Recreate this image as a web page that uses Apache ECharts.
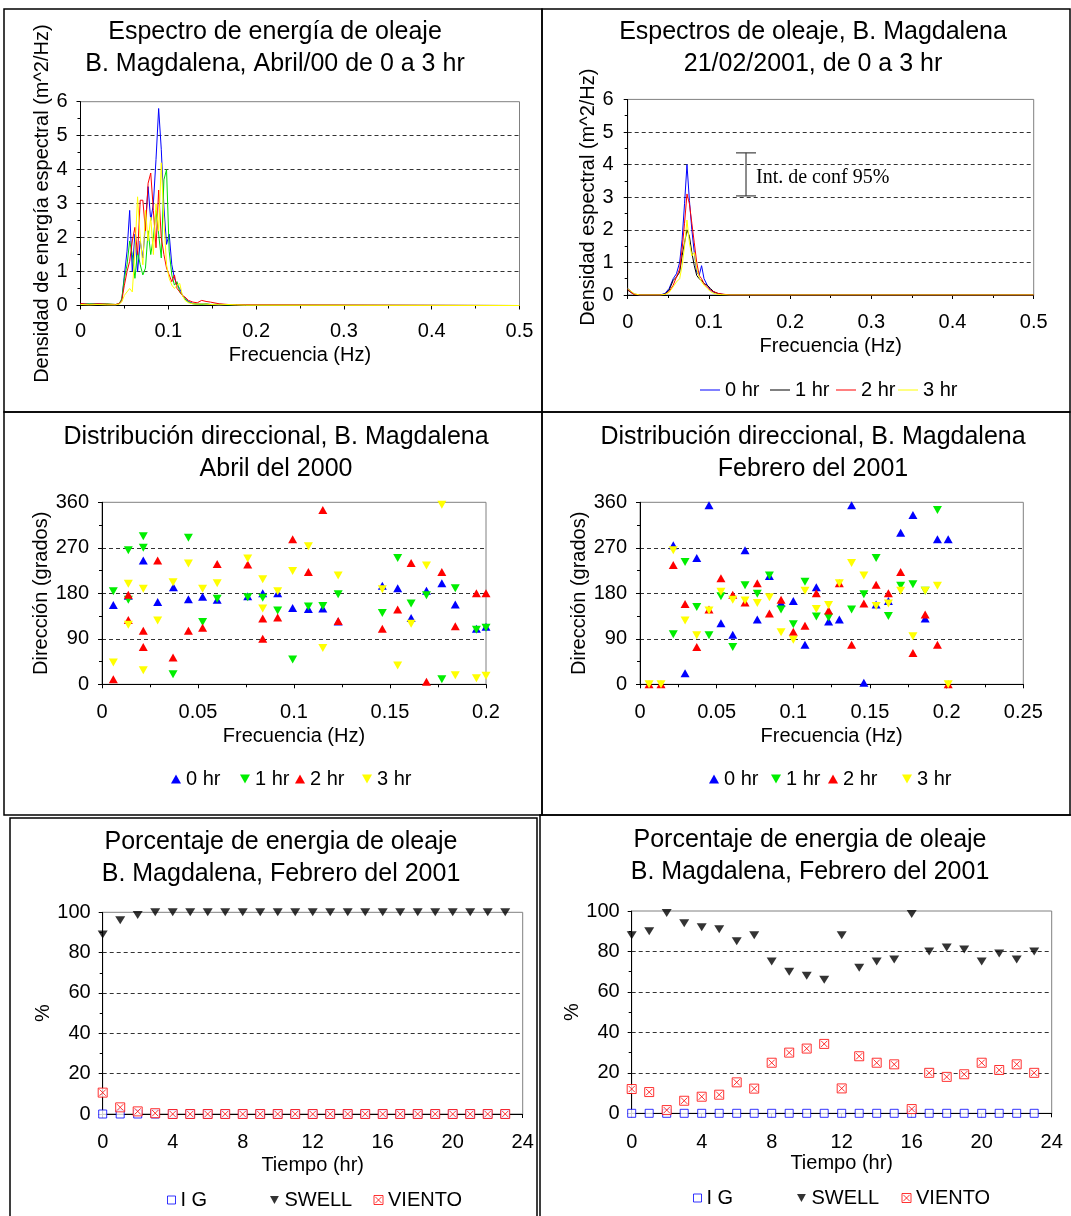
<!DOCTYPE html>
<html><head><meta charset="utf-8">
<script src="https://cdn.jsdelivr.net/npm/echarts@6/dist/echarts.min.js"></script>
<style>html,body{margin:0;padding:0;background:#fff}#c{width:1071px;height:1216px}</style>
</head><body><div id="c"></div><script>
// ---------- DATA ----------
// Panel 1: Espectro de energía, Abril/00
const spec1Freq = [0,0.01,0.02,0.03,0.04,0.044,0.047,0.050,0.053,0.056,0.059,0.062,0.065,0.068,0.071,0.074,0.077,0.080,0.083,0.086,0.089,0.092,0.095,0.098,0.101,0.104,0.107,0.110,0.113,0.116,0.119,0.123,0.128,0.133,0.138,0.143,0.148,0.158,0.168,0.178,0.188,0.5];
const spec1H0 = [0.05,0.04,0.05,0.03,0.02,0.05,0.15,0.9,1.6,2.8,1.0,2.1,1.0,1.9,1.4,2.4,3.5,2.5,3.0,4.3,5.8,4.6,2.9,1.8,2.1,1.2,0.8,0.6,0.5,0.3,0.2,0.12,0.06,0.04,0.05,0.04,0.03,0.02,0.03,0.02,0.01,0];
const spec1H1 = [0.03,0.05,0.04,0.05,0.03,0.05,0.2,0.8,1.2,1.9,1.5,0.8,1.6,1.2,0.9,1.1,2.2,1.5,2.0,2.8,2.1,1.4,3.7,4.0,1.6,0.9,0.6,0.7,0.4,0.3,0.2,0.1,0.05,0.04,0.03,0.05,0.03,0.04,0.02,0.02,0.01,0];
const spec1H2 = [0.06,0.03,0.05,0.04,0.03,0.06,0.15,0.6,1.0,1.3,1.9,2.3,1.5,3.1,3.1,2.2,3.6,3.9,2.8,1.7,3.4,2.0,1.5,1.1,0.9,0.7,0.9,0.5,0.4,0.3,0.25,0.15,0.1,0.08,0.15,0.12,0.1,0.05,0.03,0.02,0.02,0];
const spec1H3 = [0.03,0.02,0.03,0.02,0.02,0.04,0.1,0.3,0.4,0.5,0.4,1.6,3.2,2.0,1.2,2.8,1.9,2.6,1.5,3.0,2.2,4.2,2.5,1.2,0.8,0.6,0.5,0.6,0.65,0.3,0.15,0.08,0.05,0.04,0.05,0.04,0.03,0.02,0.03,0.02,0.01,0];
// Panel 2: Espectros 21/02/2001
const spec2Freq = [0,0.004,0.008,0.015,0.04,0.046,0.051,0.056,0.060,0.064,0.067,0.070,0.073,0.076,0.079,0.082,0.085,0.088,0.091,0.094,0.098,0.102,0.106,0.111,0.116,0.126,0.5];
const spec2H0 = [0.2,0.12,0.03,0,0,0.05,0.2,0.5,0.65,1.0,1.7,2.8,4.0,2.9,2.0,1.3,0.7,0.6,0.9,0.5,0.3,0.15,0.08,0.04,0.02,0,0];
const spec2H1 = [0.15,0.08,0.02,0,0,0.03,0.15,0.45,0.55,0.7,1.2,1.6,2.0,1.8,1.3,0.9,0.6,0.5,0.45,0.35,0.3,0.2,0.1,0.05,0.02,0,0];
const spec2H2 = [0.18,0.08,0.02,0,0,0.02,0.1,0.3,0.55,0.8,1.4,2.2,3.1,2.8,2.2,1.6,1.0,0.6,0.5,0.35,0.25,0.15,0.1,0.05,0.03,0,0];
const spec2H3 = [0.2,0.12,0.04,0,0,0.02,0.08,0.25,0.4,0.5,0.9,1.5,2.3,1.6,1.2,1.3,0.8,0.55,0.4,0.3,0.2,0.1,0.05,0.02,0.01,0,0];
const confInterval = [[0.1457, 3.04, 4.36]];
const confText = 'Int. de conf 95%';
// Panel 3: Distribución direccional, Abril 2000 [freq, dir]
const dir1H0 = [[0.0059,157],[0.0137,175],[0.0215,245],[0.029,163],[0.0372,192],[0.045,168],[0.0524,173],[0.060,167],[0.0759,174],[0.0837,180],[0.0915,180],[0.0993,151],[0.1075,149],[0.115,150],[0.123,124],[0.146,195],[0.154,190],[0.161,131],[0.169,185],[0.177,200],[0.184,158],[0.195,110],[0.2,114]];
const dir1H1 = [[0.0059,184],[0.0137,265],[0.0137,167],[0.0215,293],[0.0215,270],[0.037,20],[0.045,290],[0.0524,123],[0.060,169],[0.0759,172],[0.0837,171],[0.0915,146],[0.0993,49],[0.1075,154],[0.115,155],[0.123,178],[0.146,141],[0.154,250],[0.161,160],[0.169,176],[0.177,10],[0.184,190],[0.195,108],[0.2,112]];
const dir1H2 = [[0.0059,10],[0.0137,177],[0.0137,127],[0.0215,106],[0.0215,74],[0.029,245],[0.037,53],[0.045,106],[0.0524,112],[0.060,238],[0.0759,237],[0.0837,130],[0.0837,90],[0.0915,132],[0.0993,287],[0.1075,222],[0.115,345],[0.123,125],[0.146,110],[0.154,148],[0.161,240],[0.169,5],[0.177,222],[0.184,115],[0.195,180],[0.2,180]];
const dir1H3 = [[0.0059,43],[0.0137,199],[0.0137,118],[0.0215,189],[0.0215,28],[0.029,126],[0.037,202],[0.045,239],[0.0524,189],[0.060,200],[0.0759,249],[0.0837,208],[0.0837,150],[0.0915,184],[0.0993,224],[0.1075,273],[0.115,72],[0.123,215],[0.146,188],[0.154,37],[0.161,120],[0.169,235],[0.177,355],[0.184,18],[0.195,12],[0.2,17]];
// Panel 4: Distribución direccional, Febrero 2001
const dir2H0 = [[0.0217,275],[0.0294,22],[0.037,250],[0.045,354],[0.0528,121],[0.0605,98],[0.0685,265],[0.0765,128],[0.0844,214],[0.092,161],[0.1,165],[0.1076,78],[0.115,192],[0.123,124],[0.13,128],[0.138,354],[0.146,3],[0.154,158],[0.162,165],[0.17,300],[0.178,335],[0.186,130],[0.194,287],[0.201,287]];
const dir2H1 = [[0.0217,99],[0.0294,242],[0.037,153],[0.045,97],[0.0528,174],[0.0605,74],[0.0685,196],[0.0765,179],[0.0844,215],[0.092,148],[0.1,119],[0.1076,203],[0.115,134],[0.123,132],[0.138,148],[0.146,178],[0.154,250],[0.162,135],[0.17,195],[0.178,198],[0.186,185],[0.194,345]];
const dir2H2 = [[0.0059,0],[0.0137,0],[0.0217,236],[0.0294,159],[0.037,74],[0.045,148],[0.0528,210],[0.0605,177],[0.0685,162],[0.0765,200],[0.0844,140],[0.092,167],[0.1,104],[0.1076,116],[0.115,180],[0.123,146],[0.13,200],[0.138,78],[0.146,160],[0.154,197],[0.162,180],[0.17,222],[0.178,62],[0.186,138],[0.194,78],[0.201,0]];
const dir2H3 = [[0.0059,0],[0.0137,0],[0.0217,265],[0.0294,126],[0.037,97],[0.045,146],[0.0528,183],[0.0605,167],[0.0685,166],[0.0765,161],[0.0844,172],[0.092,103],[0.1,88],[0.1076,185],[0.115,149],[0.123,157],[0.13,200],[0.138,240],[0.146,215],[0.154,155],[0.162,160],[0.17,185],[0.178,95],[0.186,185],[0.194,195],[0.201,0]];
// Panels 5 and 6: Porcentaje de energía
const hours = [0,1,2,3,4,5,6,7,8,9,10,11,12,13,14,15,16,17,18,19,20,21,22,23];
const ig5 = [0,0,0,0,0,0,0,0,0,0,0,0,0,0,0,0,0,0,0,0,0,0,0,0];
const swell5 = [89,96,98.7,100,100,100,100,100,100,100,100,100,100,100,100,100,100,100,100,100,100,100,100,100];
const viento5 = [10.6,3.3,1.3,0.4,0,0,0,0,0,0,0,0,0,0,0,0,0,0,0,0,0,0,0,0];
const ig6 = [0,0,0,0,0,0,0,0,0,0,0,0,0,0,0,0,0,0,0,0,0,0,0,0];
const swell6 = [88,90,99,94,92,91,85,88,75,70,68,66,88,72,75,76,98.5,80,82,81,75,79,76,80];
const viento6 = [12,10.5,1.6,6.2,8.2,9.2,15.3,12.2,25,30,32,34.3,12.3,28.2,25,24.2,2.1,20,18,19.3,25,21.4,24.2,20];

const titles = [
  'Espectro de energía de oleaje\nB. Magdalena, Abril/00 de 0 a 3 hr',
  'Espectros de oleaje, B. Magdalena\n21/02/2001, de 0 a 3 hr',
  'Distribución direccional, B. Magdalena\nAbril del 2000',
  'Distribución direccional, B. Magdalena\nFebrero del 2001',
  'Porcentaje de energia de oleaje\nB. Magdalena, Febrero del 2001',
  'Porcentaje de energia de oleaje\nB. Magdalena, Febrero del 2001'
];
const hrNames = ['0 hr','1 hr','2 hr','3 hr'];

// ---------- STYLE ----------
const FONT = "'Liberation Sans', Arial, sans-serif";
const BLUE='#0000ff', GREEN='#00ee00', RED='#ff0000', YEL='#ffff00', BLK='#000000';
const DOWN = 'path://M0,0L10,0L5,9Z';
const VIENTO_SYM = 'path://M0,0H10V10H0Z M1.5,1.5L8.5,8.5 M8.5,1.5L1.5,8.5';
const zip = (xs, ys) => xs.map((x, i) => [x, ys[i]]);

const grids = [
  {left:80.5, top:101.7, width:439, height:203.8},
  {left:627.7, top:99.4, width:406, height:195.6},
  {left:102, top:502.3, width:384, height:182},
  {left:640, top:502.3, width:383.3, height:182},
  {left:102.7, top:912.3, width:420, height:201.7},
  {left:631.7, top:911, width:420, height:202.3}
].map(g => Object.assign(g, {show:true, borderColor:'#808080', borderWidth:1, backgroundColor:'transparent'}));

function axis(gi, min, max, interval, o) {
  return {
    gridIndex: gi, type:'value', min, max, interval,
    name: o.name || '', nameLocation:'middle', nameGap: o.nameGap || 30,
    nameTextStyle:{fontSize:20, color:'#000', fontFamily:FONT},
    axisLine:{show:true, onZero:false, lineStyle:{color:'#000', width:1}},
    axisTick:{show:true, length:4, lineStyle:{color:'#000'}},
    minorTick:{show:true, splitNumber:2, length:3, lineStyle:{color:'#000'}},
    axisLabel:{fontSize:20, color:'#000', margin:o.margin || 12, fontFamily:FONT},
    splitLine:{show: !!o.split, showMinLine:false, showMaxLine:false, lineStyle:{type:[4,3], color:'#333', width:1}},
    minorSplitLine:{show:false}
  };
}

const xAxes = [
  axis(0, 0, 0.5, 0.1, {name:'Frecuencia (Hz)', nameGap:40, margin:16}),
  axis(1, 0, 0.5, 0.1, {name:'Frecuencia (Hz)', nameGap:41, margin:17}),
  axis(2, 0, 0.2, 0.05, {name:'Frecuencia (Hz)', nameGap:42, margin:18}),
  axis(3, 0, 0.25, 0.05, {name:'Frecuencia (Hz)', nameGap:42, margin:18}),
  axis(4, 0, 24, 4, {name:'Tiempo (hr)', nameGap:41, margin:18}),
  axis(5, 0, 24, 4, {name:'Tiempo (hr)', nameGap:40, margin:19})
];
xAxes.forEach(a => { a.minorTick.show = (a.gridIndex < 4); });
const yAxes = [
  axis(0, 0, 6, 1, {name:'Densidad de energía espectral (m^2/Hz)', nameGap:26, margin:13, split:true}),
  axis(1, 0, 6, 1, {name:'Densidad espectral (m^2/Hz)', nameGap:28, margin:14, split:true}),
  axis(2, 0, 360, 90, {name:'Dirección (grados)', nameGap:51, margin:13, split:true}),
  axis(3, 0, 360, 90, {name:'Dirección (grados)', nameGap:49, margin:13, split:true}),
  axis(4, 0, 100, 20, {name:'%', nameGap:41, margin:12, split:true}),
  axis(5, 0, 100, 20, {name:'%', nameGap:40, margin:12, split:true})
];

const series = [];
const lineSer = (name, gi, data, color) => ({name, type:'line', xAxisIndex:gi, yAxisIndex:gi, data, symbol:'none', showSymbol:false, lineStyle:{color, width:1}, itemStyle:{color}, animation:false, silent:true});
[[spec1H0,BLUE],[spec1H1,'#00dd00'],[spec1H2,RED],[spec1H3,YEL]].forEach((s, i) => series.push(lineSer('P1 ' + hrNames[i], 0, zip(spec1Freq, s[0]), s[1])));
[[spec2H0,BLUE],[spec2H1,BLK],[spec2H2,RED],[spec2H3,YEL]].forEach((s, i) => series.push(lineSer(hrNames[i], 1, zip(spec2Freq, s[0]), s[1])));
series.push({
  type:'custom', xAxisIndex:1, yAxisIndex:1, data: confInterval, silent:true, z:5,
  renderItem: (params, api) => {
    const x = api.value(0);
    const lo = api.coord([x, api.value(1)]);
    const hi = api.coord([x, api.value(2)]);
    const st = {stroke:'#404040', lineWidth:1.2};
    return {type:'group', children:[
      {type:'line', shape:{x1:lo[0], y1:lo[1], x2:hi[0], y2:hi[1]}, style:st},
      {type:'line', shape:{x1:lo[0]-10, y1:lo[1], x2:lo[0]+10, y2:lo[1]}, style:st},
      {type:'line', shape:{x1:hi[0]-10, y1:hi[1], x2:hi[0]+10, y2:hi[1]}, style:st},
      {type:'text', x: lo[0]+10, y:(lo[1]+hi[1])/2 + 3, style:{text: confText, font:"20px 'Liberation Serif', 'Times New Roman', serif", fill:'#000', align:'left', verticalAlign:'middle'}}
    ]};
  }
});
const scat = (name, gi, data, color, sym, size) => ({name, type:'scatter', xAxisIndex:gi, yAxisIndex:gi, data, symbol:sym, symbolSize:size, itemStyle:{color, opacity:1}, animation:false, silent:true});
const dirCols = [[BLUE,'triangle'],[GREEN,DOWN],[RED,'triangle'],[YEL,DOWN]];
[dir1H0, dir1H1, dir1H2, dir1H3].forEach((d, i) => series.push(scat(hrNames[i], 2, d, dirCols[i][0], dirCols[i][1], [9,8])));
[dir2H0, dir2H1, dir2H2, dir2H3].forEach((d, i) => series.push(scat(hrNames[i], 3, d, dirCols[i][0], dirCols[i][1], [9,8])));
function pctSeries(gi, ig, sw, vi) {
  series.push({name:'I G', type:'scatter', xAxisIndex:gi, yAxisIndex:gi, data:zip(hours, ig), symbol:'rect', symbolSize:8, itemStyle:{color:'#fff', borderColor:'#0000ff', borderWidth:1}, animation:false, silent:true});
  series.push({name:'SWELL', type:'scatter', xAxisIndex:gi, yAxisIndex:gi, data:zip(hours, sw), symbol:DOWN, symbolSize:[10,8], itemStyle:{color:'#000'}, animation:false, silent:true});
  series.push({name:'VIENTO', type:'scatter', xAxisIndex:gi, yAxisIndex:gi, data:zip(hours, vi), symbol:VIENTO_SYM, symbolSize:9, itemStyle:{color:'#fff', borderColor:'#ff0000', borderWidth:1}, animation:false, silent:true});
}
pctSeries(4, ig5, swell5, viento5);
pctSeries(5, ig6, swell6, viento6);

// legends: one component per item for exact placement
const legends = [];
function leg(name, iconLeft, y, icon, w, h, style) {
  legends.push({data:[{name, icon, itemStyle:style}], left:iconLeft, top:y - 9, padding:0, itemWidth:w, itemHeight:h,
    selectedMode:false, textStyle:{fontSize:20, color:'#000', fontFamily:FONT}});
}
[[700,BLUE],[770,BLK],[836,RED],[898,YEL]].forEach((p, i) => leg(hrNames[i], p[0], 389, 'rect', 20, 1, {color:p[1], borderWidth:0}));
[176,245,300,367].forEach((c, i) => leg(hrNames[i], c-5, 778, dirCols[i][1], 10, 9, {color:dirCols[i][0], borderWidth:0}));
[714,776,833,907].forEach((c, i) => leg(hrNames[i], c-5, 778, dirCols[i][1], 10, 9, {color:dirCols[i][0], borderWidth:0}));
function pctLeg(cs, y) {
  leg('I G', cs[0]-4, y, 'rect', 8, 8, {color:'#fff', borderColor:'#0000ff', borderWidth:1});
  leg('SWELL', cs[1]-5, y, DOWN, 10, 8, {color:'#000', borderWidth:0});
  leg('VIENTO', cs[2]-4.5, y, VIENTO_SYM, 9, 9, {color:'#fff', borderColor:'#ff0000', borderWidth:1});
}
pctLeg([171,275,378], 1199);
pctLeg([697,802,906], 1197);

const titleCfg = [[275,16],[813,16],[276,421],[813,421],[281,826],[810,824]].map((p, i) => ({
  text: titles[i], left:p[0], top:p[1], textAlign:'center', padding:0,
  textStyle:{fontSize:25, fontWeight:'normal', color:'#000', lineHeight:32, fontFamily:FONT}
}));

const borderStyle = {fill:'none', stroke:'#000', lineWidth:1.5};
const graphic = [
  {type:'rect', shape:{x:4, y:9, width:538, height:403}, style:borderStyle, silent:true},
  {type:'rect', shape:{x:542, y:9, width:528, height:403}, style:borderStyle, silent:true},
  {type:'rect', shape:{x:4, y:412, width:538, height:403}, style:borderStyle, silent:true},
  {type:'rect', shape:{x:542, y:412, width:528, height:403}, style:borderStyle, silent:true},
  {type:'rect', shape:{x:10, y:818, width:527, height:410}, style:borderStyle, silent:true},
  {type:'rect', shape:{x:540, y:815, width:540, height:410}, style:borderStyle, silent:true}
];

const chart = echarts.init(document.getElementById('c'), null, {renderer:'canvas'});
chart.setOption({
  animation:false,
  backgroundColor:'#fff',
  textStyle:{fontFamily:FONT},
  title:titleCfg,
  grid:grids,
  xAxis:xAxes,
  yAxis:yAxes,
  legend:legends,
  series,
  graphic
});
</script></body></html>
